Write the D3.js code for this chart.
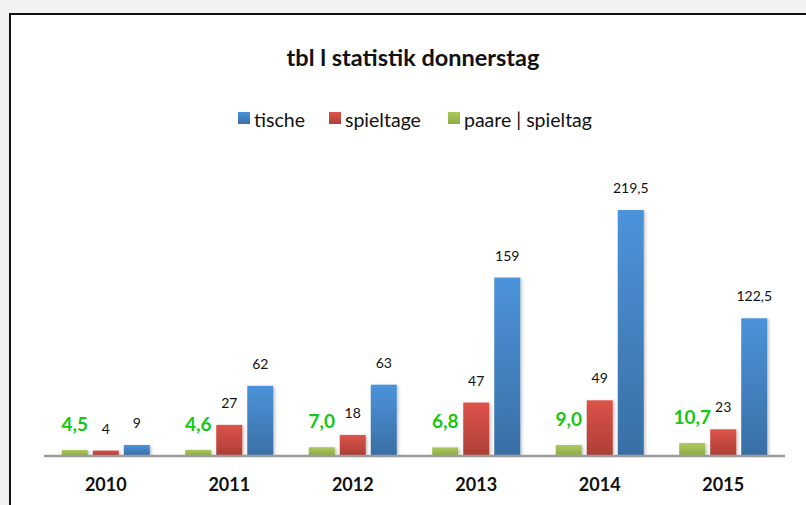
<!DOCTYPE html>
<html>
<head>
<meta charset="utf-8">
<script src="https://cdn.jsdelivr.net/npm/d3@7"></script>
<style>
  body { margin: 0; background: #f3f3f3; }
  svg { display: block; font-family: Lato, "Open Sans", sans-serif; }
</style>
</head>
<body>
<script>
const WIDTH = 806;
const HEIGHT = 505;

const YEARS = ["2010", "2011", "2012", "2013", "2014", "2015"];
const TISCHE = [9, 62, 63, 159, 219.5, 122.5];
const SPIELTAGE = [4, 27, 18, 47, 49, 23];
const PAARE = [4.5, 4.6, 7.0, 6.8, 9.0, 10.7];
const SERIES = ["paare | spieltag", "spieltage", "tische"];
const LEGEND = ["tische", "spieltage", "paare | spieltag"];

const BASE = 455;
const LEFT = 44;
const RIGHT = 785;

const COLORS = {
  "tische": ["#4b93da", "#3a6fa6"],
  "spieltage": ["#dd5349", "#ad3f37"],
  "paare | spieltag": ["#adc95c", "#8dae45"]
};
const GID = { "tische": "gb", "spieltage": "gr", "paare | spieltag": "gg" };

const comma = d3.formatLocale({ decimal: ",", thousands: ".", grouping: [3], currency: ["", "€"] });
const fmt1 = comma.format(".1f");
const fmtT = v => Number.isInteger(v) ? String(v) : fmt1(v);

const svg = d3.select("body").append("svg")
  .attr("width", WIDTH).attr("height", HEIGHT);

const defs = svg.append("defs");
Object.keys(COLORS).forEach(k => {
  const g = defs.append("linearGradient").attr("id", GID[k])
    .attr("x1", 0).attr("y1", 0).attr("x2", 0).attr("y2", 1);
  g.append("stop").attr("offset", "0%").attr("stop-color", COLORS[k][0]);
  g.append("stop").attr("offset", "100%").attr("stop-color", COLORS[k][1]);
});
const sh = defs.append("filter").attr("id", "shadow")
  .attr("x", "-30%").attr("y", "-10%").attr("width", "160%").attr("height", "130%");
sh.append("feDropShadow").attr("dx", 1.5).attr("dy", 1).attr("stdDeviation", 1.5)
  .attr("flood-color", "#000").attr("flood-opacity", 0.25);

// page background and chart frame
svg.append("rect").attr("width", WIDTH).attr("height", HEIGHT).attr("fill", "#f2f2f2");
svg.append("rect").attr("x", 10).attr("y", 14).attr("width", WIDTH).attr("height", HEIGHT)
  .attr("fill", "#fff").attr("stroke", "#111").attr("stroke-width", 2);

// title
svg.append("text")
  .attr("x", 413).attr("y", 66)
  .attr("text-anchor", "middle")
  .attr("font-size", 23.5).attr("font-weight", "bold").attr("fill", "#111")
  .text("tbl l statistik donnerstag");

// legend
const legendX = [238, 329, 448];
LEGEND.forEach((k, i) => {
  svg.append("rect").attr("x", legendX[i]).attr("y", 112).attr("width", 12).attr("height", 12)
    .attr("fill", `url(#${GID[k]})`);
  svg.append("text").attr("x", legendX[i] + 16).attr("y", 127)
    .attr("font-size", 19.5).attr("fill", "#111").text(k);
});

// scales
const x0 = d3.scaleBand().domain(YEARS).range([LEFT, RIGHT])
  .paddingInner(0.287).paddingOuter(0.1437);
const x1 = d3.scaleBand().domain(SERIES).range([0, x0.bandwidth()]).paddingInner(5 / 31);
const y = d3.scaleLinear().domain([0, 250]).range([BASE, 176]);

const rows = YEARS.map((yr, i) => ({
  year: yr,
  values: [
    { key: "paare | spieltag", v: PAARE[i] },
    { key: "spieltage", v: SPIELTAGE[i] },
    { key: "tische", v: TISCHE[i] }
  ]
}));

const groups = svg.selectAll("g.year").data(rows).enter().append("g")
  .attr("class", "year")
  .attr("transform", d => `translate(${x0(d.year)},0)`);

groups.selectAll("rect").data(d => d.values).enter().append("rect")
  .attr("x", d => x1(d.key))
  .attr("y", d => y(d.v))
  .attr("width", x1.bandwidth())
  .attr("height", d => BASE - y(d.v))
  .attr("fill", d => `url(#${GID[d.key]})`)
  .attr("filter", "url(#shadow)");

// baseline
svg.append("line").attr("x1", LEFT).attr("x2", RIGHT).attr("y1", BASE + 1).attr("y2", BASE + 1)
  .attr("stroke", "#9c9c9c").attr("stroke-width", 2.5);

// value labels
groups.selectAll("text.val").data(d => d.values).enter().append("text")
  .attr("class", "val")
  .attr("x", d => x1(d.key) + x1.bandwidth() / 2)
  .attr("y", d => y(d.v) - (d.key === "paare | spieltag" ? 19 : 17))
  .attr("text-anchor", "middle")
  .attr("font-size", d => d.key === "paare | spieltag" ? 19 : 14)
  .attr("font-weight", d => d.key === "paare | spieltag" ? "bold" : "normal")
  .attr("fill", d => d.key === "paare | spieltag" ? "#14c814" : "#111")
  .text(d => d.key === "paare | spieltag" ? fmt1(d.v) : fmtT(d.v));

// category axis
const xAxis = d3.axisBottom(x0).tickSize(0).tickPadding(0);
svg.append("g").attr("transform", `translate(0,${BASE})`).call(xAxis)
  .call(g => g.select(".domain").remove())
  .selectAll("text")
  .attr("y", 36).attr("dy", 0)
  .attr("font-family", "Lato, sans-serif")
  .attr("font-size", 18).attr("font-weight", "bold").attr("fill", "#111");
</script>
</body>
</html>
